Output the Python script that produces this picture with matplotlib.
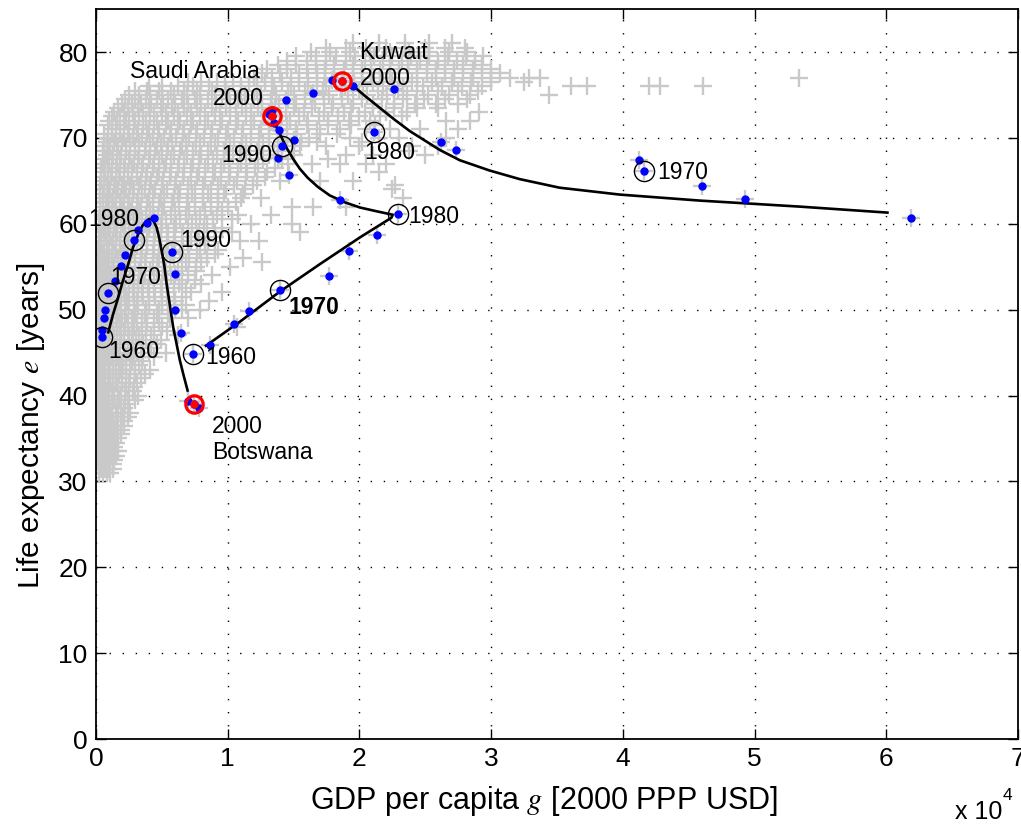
import matplotlib
matplotlib.use('Agg')
import matplotlib.pyplot as plt
import numpy as np

plt.rcParams['font.family'] = ['Liberation Sans', 'DejaVu Sans']
plt.rcParams['mathtext.fontset'] = 'stix'

# all countries, all years: GDP values (thousand USD) grouped by life expectancy level
cloud_life = list(range(31, 82))
cloud_gdp = [
    [0.2, 0.5, 0.8, 1.1],
    [0.3, 0.6, 0.9, 1.3],
    [0.2, 0.5, 0.8, 1.2, 1.5],
    [0.3, 0.6, 1.0, 1.4],
    [0.2, 0.5, 0.9, 1.2, 1.7],
    [0.3, 0.7, 1.0, 1.4, 1.9],
    [0.2, 0.5, 0.9, 1.3, 1.7, 2.1],
    [0.3, 0.6, 1.0, 1.5, 1.9, 2.6],
    [0.2, 0.5, 0.8, 1.2, 1.6, 2.2],
    [0.3, 0.6, 1.0, 1.4, 1.9, 2.5, 3.2],
    [0.2, 0.5, 0.9, 1.3, 1.7, 2.3, 2.9],
    [0.3, 0.7, 1.1, 1.5, 2.0, 2.6, 3.4],
    [0.2, 0.5, 0.9, 1.3, 1.8, 2.3, 3.0, 4.1],
    [0.3, 0.6, 1.0, 1.5, 2.0, 2.7, 3.5],
    [0.2, 0.5, 0.9, 1.3, 1.8, 2.4, 3.1, 4.0, 5.3],
    [0.3, 0.7, 1.1, 1.6, 2.1, 2.8, 3.6, 4.6],
    [0.2, 0.5, 0.9, 1.4, 1.9, 2.5, 3.3, 4.2, 6.2],
    [0.3, 0.7, 1.1, 1.6, 2.2, 2.9, 3.8, 5.0, 10.7],
    [0.2, 0.6, 1.0, 1.5, 2.0, 2.7, 3.5, 4.4, 5.6, 7.0],
    [0.3, 0.7, 1.1, 1.6, 2.2, 2.9, 3.8, 4.8, 6.5, 7.9],
    [0.2, 0.5, 0.9, 1.3, 1.8, 2.4, 3.1, 4.0, 5.0, 6.0, 8.6],
    [0.3, 0.7, 1.1, 1.6, 2.1, 2.8, 3.5, 4.4, 5.5, 7.2, 9.6],
    [0.2, 0.5, 0.9, 1.3, 1.9, 2.5, 3.2, 4.0, 5.0, 6.3, 8.0],
    [0.3, 0.7, 1.1, 1.6, 2.2, 2.9, 3.7, 4.6, 5.7, 7.0, 8.8],
    [0.2, 0.6, 1.0, 1.4, 2.0, 2.6, 3.4, 4.3, 5.3, 6.5, 7.6, 10.2],
    [0.3, 0.7, 1.2, 1.7, 2.3, 3.0, 3.8, 4.8, 5.9, 7.1, 8.4, 11.2],
    [0.2, 0.6, 1.0, 1.5, 2.1, 2.7, 3.5, 4.4, 5.5, 6.6, 7.9, 9.3],
    [0.4, 0.8, 1.3, 1.8, 2.4, 3.1, 3.9, 4.9, 6.0, 7.2, 8.5, 10.9, 12.4],
    [0.3, 0.7, 1.1, 1.6, 2.2, 2.9, 3.6, 4.5, 5.5, 6.6, 7.8, 9.0, 10.3, 15.5],
    [0.4, 0.9, 1.4, 2.0, 2.6, 3.3, 4.1, 5.0, 6.1, 7.3, 8.4, 11.8, 14.9],
    [0.3, 0.7, 1.2, 1.7, 2.3, 3.0, 3.8, 4.7, 5.7, 6.8, 7.9, 9.2, 10.8, 13.3],
    [0.5, 1.0, 1.5, 2.1, 2.7, 3.4, 4.3, 5.2, 6.3, 7.5, 8.7, 10.0, 14.9, 16.5, 19.0],
    [0.3, 0.8, 1.3, 1.9, 2.5, 3.2, 4.0, 4.9, 5.9, 7.0, 8.1, 9.3, 11.0, 12.5, 23.3],
    [0.6, 1.1, 1.7, 2.3, 2.9, 3.7, 4.5, 5.4, 6.4, 7.5, 8.7, 9.9, 11.3, 22.5],
    [0.4, 0.9, 1.5, 2.1, 2.7, 3.4, 4.2, 5.1, 6.1, 7.2, 8.3, 9.5, 10.7, 12.2, 14.0, 17.0, 19.5],
    [0.7, 1.2, 1.8, 2.4, 3.1, 3.9, 4.8, 5.7, 6.7, 7.8, 9.0, 10.2, 11.5, 13.0, 21.5],
    [0.5, 1.0, 1.6, 2.2, 2.9, 3.6, 4.4, 5.3, 6.3, 7.4, 8.5, 9.7, 11.0, 12.3, 14.6, 16.4, 18.5, 20.5, 22.0],
    [0.8, 1.3, 1.9, 2.6, 3.3, 4.1, 5.0, 5.9, 6.9, 8.0, 9.2, 10.4, 11.7, 13.1, 15.0, 19.0, 21.0, 25.0],
    [0.6, 1.1, 1.7, 2.3, 3.0, 3.8, 4.6, 5.5, 6.5, 7.6, 8.7, 9.9, 11.1, 12.4, 13.8, 15.5, 17.5, 20.0, 24.0, 26.0],
    [0.9, 1.5, 2.1, 2.8, 3.5, 4.3, 5.2, 6.1, 7.1, 8.2, 9.3, 10.5, 11.8, 13.1, 14.5, 16.2, 19.3, 21.5, 23.0, 26.6],
    [1.2, 1.8, 2.5, 3.2, 4.0, 4.8, 5.7, 6.7, 7.7, 8.8, 10.0, 11.2, 12.5, 13.8, 15.2, 16.8, 18.5, 20.5, 22.3, 24.6, 27.5],
    [1.0, 1.6, 2.3, 3.0, 3.8, 4.6, 5.5, 6.4, 7.4, 8.5, 9.6, 10.8, 12.0, 13.3, 14.7, 16.1, 17.6, 19.2, 20.8, 26.6, 28.4],
    [1.4, 2.1, 2.8, 3.6, 4.4, 5.3, 6.2, 7.2, 8.3, 9.4, 10.6, 11.8, 13.1, 14.4, 15.8, 17.3, 18.8, 20.4, 22.0, 23.6, 29.1],
    [2.0, 2.7, 3.4, 4.2, 5.1, 6.0, 7.0, 8.0, 9.1, 10.2, 11.4, 12.6, 13.9, 15.2, 16.6, 18.0, 19.5, 21.0, 22.6, 24.2, 25.8, 27.5],
    [2.5, 3.3, 4.1, 5.0, 5.9, 6.9, 7.9, 9.0, 10.1, 11.3, 12.5, 13.7, 15.0, 16.3, 17.7, 19.1, 20.6, 22.1, 23.6, 25.2, 26.8, 28.4, 34.4],
    [4.0, 5.0, 6.2, 7.4, 8.6, 9.8, 11.0, 12.2, 13.5, 14.8, 16.1, 17.5, 18.9, 20.3, 21.8, 23.3, 24.8, 26.3, 27.8, 29.3, 36.1, 37.3, 42.0, 42.8, 46.1],
    [12.0, 13.4, 14.8, 16.1, 17.4, 18.8, 20.2, 21.6, 23.0, 24.4, 25.8, 27.2, 28.6, 30.0, 31.4, 32.9, 33.7, 53.4],
    [13.0, 14.5, 16.0, 17.4, 18.8, 20.2, 21.6, 23.0, 24.4, 25.8, 27.2, 28.6, 30.0],
    [14.5, 16.0, 17.5, 19.0, 20.4, 21.8, 23.2, 24.6, 26.0, 27.4, 28.8],
    [16.3, 17.8, 19.3, 20.8, 22.3, 23.8, 25.3, 26.8, 28.2],
    [19.5, 21.5, 23.5, 25.3, 27.0],
]
# in-between levels of the same cloud
cloud_life_b = [v + 0.5 for v in range(31, 81)]
cloud_gdp_b = [
    [0.35, 0.65, 0.95, 1.3],
    [0.15, 0.45, 0.75, 1.05, 1.4],
    [0.35, 0.65, 1.0, 1.35, 1.7],
    [0.15, 0.45, 0.8, 1.15, 1.55],
    [0.35, 0.7, 1.05, 1.45, 1.9],
    [0.15, 0.5, 0.85, 1.2, 1.6, 2.1],
    [0.35, 0.7, 1.1, 1.5, 1.95, 2.4],
    [0.15, 0.45, 0.8, 1.2, 1.65, 2.15],
    [0.35, 0.7, 1.0, 1.4, 1.85, 2.4, 3.0],
    [0.15, 0.45, 0.8, 1.2, 1.65, 2.2, 2.8],
    [0.35, 0.7, 1.1, 1.5, 1.95, 2.5, 3.1],
    [0.15, 0.5, 0.9, 1.3, 1.75, 2.3, 2.95, 3.7],
    [0.35, 0.7, 1.1, 1.55, 2.05, 2.6, 3.3],
    [0.15, 0.45, 0.8, 1.2, 1.7, 2.25, 2.9, 3.6, 4.4],
    [0.35, 0.7, 1.1, 1.55, 2.1, 2.7, 3.4, 4.2],
    [0.15, 0.5, 0.9, 1.3, 1.8, 2.4, 3.05, 3.8, 4.9],
    [0.35, 0.7, 1.1, 1.6, 2.15, 2.75, 3.5, 4.4, 5.4],
    [0.15, 0.5, 0.85, 1.3, 1.8, 2.4, 3.1, 3.9, 4.8],
    [0.35, 0.75, 1.2, 1.7, 2.3, 2.95, 3.7, 4.6, 5.5],
    [0.15, 0.5, 0.9, 1.35, 1.9, 2.5, 3.2, 4.0, 5.0, 5.9, 6.8],
    [0.35, 0.75, 1.2, 1.7, 2.25, 2.9, 3.6, 4.5, 5.4, 6.5],
    [0.15, 0.5, 0.9, 1.35, 1.9, 2.5, 3.2, 3.95, 4.9, 5.9, 6.8],
    [0.35, 0.75, 1.15, 1.65, 2.2, 2.85, 3.6, 4.4, 5.4, 6.5, 7.5],
    [0.15, 0.5, 0.9, 1.35, 1.9, 2.55, 3.3, 4.1, 5.1, 6.2, 7.6],
    [0.35, 0.8, 1.2, 1.7, 2.3, 2.95, 3.7, 4.6, 5.6, 6.8, 8.0, 12.6],
    [0.15, 0.5, 0.95, 1.45, 2.0, 2.65, 3.4, 4.3, 5.3, 6.4, 7.7, 9.0],
    [0.4, 0.8, 1.25, 1.8, 2.4, 3.1, 3.9, 4.8, 5.9, 7.0, 8.3],
    [0.2, 0.6, 1.05, 1.55, 2.1, 2.75, 3.5, 4.4, 5.4, 6.5, 7.7, 9.0],
    [0.5, 0.9, 1.35, 1.9, 2.5, 3.2, 4.0, 4.9, 5.9, 7.0, 8.2, 9.6],
    [0.2, 0.6, 1.05, 1.55, 2.15, 2.8, 3.5, 4.3, 5.3, 6.4, 7.6, 8.9, 10.3],
    [0.5, 0.95, 1.45, 2.0, 2.6, 3.3, 4.1, 5.0, 6.0, 7.1, 8.3, 9.6],
    [0.3, 0.75, 1.25, 1.8, 2.4, 3.1, 3.9, 4.8, 5.8, 6.9, 8.1, 9.3, 10.6],
    [0.5, 1.0, 1.55, 2.15, 2.8, 3.5, 4.3, 5.2, 6.2, 7.3, 8.5, 9.7, 11.2],
    [0.3, 0.8, 1.35, 1.95, 2.6, 3.3, 4.1, 5.0, 6.0, 7.0, 8.1, 9.3, 10.5, 11.9, 22.7],
    [0.6, 1.15, 1.75, 2.4, 3.1, 3.8, 4.6, 5.6, 6.6, 7.7, 8.9, 10.1, 11.4, 12.8],
    [0.4, 0.9, 1.5, 2.1, 2.75, 3.5, 4.3, 5.2, 6.2, 7.2, 8.3, 9.5, 10.8, 12.1, 13.6],
    [0.7, 1.25, 1.85, 2.5, 3.2, 4.0, 4.8, 5.7, 6.7, 7.8, 8.9, 10.1, 11.4, 12.7, 14.1, 17.6],
    [0.5, 1.0, 1.6, 2.25, 2.95, 3.7, 4.5, 5.4, 6.4, 7.4, 8.5, 9.7, 10.9, 12.2, 13.5, 14.9, 23.8],
    [0.8, 1.35, 1.95, 2.6, 3.3, 4.1, 4.9, 5.8, 6.8, 7.9, 9.0, 10.2, 11.4, 12.7, 14.1, 15.6, 16.8, 20.2],
    [0.6, 1.2, 1.8, 2.45, 3.15, 3.9, 4.7, 5.6, 6.6, 7.6, 8.7, 9.9, 11.1, 12.4, 13.8, 15.3, 17.0, 18.3],
    [0.9, 1.5, 2.15, 2.85, 3.6, 4.4, 5.3, 6.2, 7.2, 8.3, 9.4, 10.6, 11.8, 13.1, 14.5, 16.0, 17.6, 19.4, 21.2],
    [1.2, 1.8, 2.5, 3.3, 4.1, 5.0, 5.9, 6.9, 7.9, 9.0, 10.2, 11.4, 12.7, 14.0, 15.4, 16.9, 18.4, 20.0, 21.6, 23.2],
    [1.7, 2.4, 3.2, 4.0, 4.9, 5.8, 6.7, 7.7, 8.8, 9.9, 11.1, 12.3, 13.6, 15.0, 16.4, 17.9, 19.4, 21.0, 22.6, 24.4, 26.0],
    [2.2, 3.0, 3.8, 4.6, 5.5, 6.5, 7.5, 8.5, 9.6, 10.8, 12.0, 13.3, 14.6, 15.9, 17.3, 18.7, 20.2, 21.7, 23.3, 24.9, 26.5, 28.2],
    [3.0, 3.9, 4.8, 5.7, 6.7, 7.7, 8.8, 9.9, 11.0, 12.2, 13.4, 14.6, 15.9, 17.2, 18.6, 20.0, 21.4, 22.9, 24.4, 26.0, 27.5, 29.0],
    [7.0, 8.0, 9.2, 10.4, 11.6, 12.8, 14.1, 15.4, 16.8, 18.2, 19.6, 21.0, 22.5, 24.0, 25.5, 27.0, 28.5, 30.0, 32.5],
    [12.6, 14.0, 15.4, 16.8, 18.1, 19.5, 20.9, 22.3, 23.7, 25.1, 26.5, 27.9, 29.3, 30.7],
    [13.8, 15.2, 16.7, 18.1, 19.5, 20.9, 22.3, 23.7, 25.1, 26.5, 27.9, 29.3],
    [15.2, 16.7, 18.2, 19.7, 21.1, 22.5, 23.9, 25.3, 26.7, 28.1, 29.4],
    [17.5, 19.0, 20.5, 22.0, 23.5, 25.0, 26.5, 28.0],
]

# Botswana, yearly points 1960-2000
bwa_gdp = [480, 480, 630, 680, 890, 1440, 1870, 2180, 2860, 3210, 3890, 4380,
           5790, 5970, 6020, 6450, 7000, 7410, 7840]
bwa_life = [46.8, 47.6, 49.0, 50.0, 51.9, 53.3, 55.1, 56.4, 58.1, 59.3, 60.1, 60.7,
            56.7, 54.1, 50.0, 47.3, 39.4, 39.0, 38.6]
bwa_decades = [0, 4, 8, 12]
bwa_last = 17
bwa_fit_gdp = [933, 1290, 1692, 2048, 2451, 2807, 3209, 3528, 3847, 4021, 4226, 4400,
               4605, 4780, 4985, 5190, 5364, 5614, 5865, 6145, 6373, 6676, 6957]
bwa_fit_life = [47.36, 49.42, 51.43, 53.37, 55.31, 57.21, 58.80, 59.77, 60.35, 60.55,
                60.52, 60.23, 59.57, 58.49, 56.86, 55.12, 52.99, 50.47, 47.94, 45.81,
                44.07, 42.21, 40.58]

# Saudi Arabia
sau_gdp = [7380, 8650, 10490, 11610, 13960, 17680, 19220, 21320, 22940, 18560,
           14670, 13810, 14090, 15020, 13910, 13500, 13130, 13330, 13330]
sau_life = [44.8, 45.9, 48.3, 49.9, 52.3, 53.9, 56.8, 58.7, 61.1, 62.8,
            65.7, 67.7, 69.0, 69.8, 70.9, 71.7, 72.8, 72.5, 73.2]
sau_decades = [0, 4, 8, 12]
sau_last = 17
sau_fit_gdp = [8350, 10930, 13960, 17000, 20030, 22430, 22530, 21170, 20030, 18890,
               17750, 16840, 16080, 15480, 14950, 14490, 14110, 13730, 13510]
sau_fit_life = [45.8, 48.6, 52.1, 55.3, 58.4, 60.7, 61.05, 61.5, 61.9, 62.5,
                63.3, 64.3, 65.35, 66.4, 67.6, 68.8, 70.0, 71.2, 71.9]

# Kuwait
kwt_gdp = [61910, 49300, 46030, 41600, 41200, 27370, 26230, 21120, 14390,
           16490, 22610, 19520, 17930, 18660]
kwt_life = [60.7, 62.9, 64.4, 66.1, 67.4, 68.6, 69.5, 70.7, 74.4,
            75.2, 75.7, 76.0, 76.7, 76.6]
kwt_decades = [3, 7]
kwt_last = 13
kwt_fit_gdp = [19420, 20410, 21550, 22690, 23820, 24960, 26100, 27620, 29890,
               32170, 35200, 39760, 45830, 53410, 60090]
kwt_fit_life = [76.2, 74.9, 73.5, 72.1, 70.8, 69.7, 68.6, 67.4, 66.2,
                65.2, 64.2, 63.4, 62.7, 62.0, 61.3]

# annotations: text, left x (USD), centre y (years)
labels = [
    ('Saudi Arabia', 2580, 77.7), ('2000', 8900, 74.6), ('1990', 9500, 68.0),
    ('1980', 23700, 60.9), ('1960', 8300, 44.4),
    ('Kuwait', 20000, 80.0), ('2000', 20000, 76.9), ('1980', 20400, 68.3),
    ('1970', 42600, 66.0),
    ('1980', -600, 60.5), ('1990', 6400, 58.1), ('1970', 1060, 53.8),
    ('1960', 910, 45.1), ('2000', 8800, 36.4), ('Botswana', 8800, 33.4),
]
bold_label = ('1970', 14600, 50.3)

fig = plt.figure(figsize=(10.21, 8.25), dpi=100)
ax = fig.add_axes([0.094, 0.1042, 0.903, 0.8848])

cross = dict(linestyle='none', marker='+', color='0.79', ms=13.5, mew=1.7, zorder=1)
cx = [g * 1000 for row in cloud_gdp + cloud_gdp_b for g in row]
cy = ([lv for lv, row in zip(cloud_life, cloud_gdp) for g in row] +
      [lv for lv, row in zip(cloud_life_b, cloud_gdp_b) for g in row])
ax.plot(cx, cy, **cross)

countries = [
    (bwa_gdp, bwa_life, bwa_decades, bwa_last, bwa_fit_gdp, bwa_fit_life),
    (sau_gdp, sau_life, sau_decades, sau_last, sau_fit_gdp, sau_fit_life),
    (kwt_gdp, kwt_life, kwt_decades, kwt_last, kwt_fit_gdp, kwt_fit_life),
]
for gdp, life, dec, last, fg, fl in countries:
    gdp = np.array(gdp)
    life = np.array(life)
    ax.plot(gdp, life, **cross)
    ax.plot(fg, fl, '-', color='k', lw=1.9, zorder=3, solid_joinstyle='round')
    ax.plot(gdp, life, 'o', color='b', mec='b', ms=5, zorder=4)
    ax.plot(gdp[dec], life[dec], 'o', mfc='none', mec='k', ms=14.5, mew=1.0, zorder=5)
    ax.plot(gdp[last], life[last], 'o', mfc='none', mec='r', ms=12.5, mew=2.3, zorder=5)
    ax.plot(gdp[last], life[last], 'o', color='r', ms=5, zorder=6)

for txt, x, y in labels:
    ax.text(x, y, txt, ha='left', va='center', fontsize=16.5, zorder=7, clip_on=False)
ax.text(bold_label[1], bold_label[2], bold_label[0], ha='left', va='center',
        fontsize=16.5, fontweight='bold', zorder=7)

ax.set_xlim(0, 70000)
ax.set_ylim(0, 85)
ax.set_xticks(np.arange(0, 70001, 10000))
ax.set_xticklabels([str(i) for i in range(8)])
ax.set_yticks(np.arange(0, 81, 10))
ax.tick_params(direction='in', top=True, right=True, length=7, width=1,
               labelsize=19, pad=6)
for sp in ax.spines.values():
    sp.set_linewidth(1.3)
ax.grid(True, color='k', linestyle=(0, (1, 8.4)), linewidth=1)
ax.set_axisbelow(True)

ax.set_xlabel('GDP per capita $g$ [2000 PPP USD]', fontsize=22)
ax.set_ylabel('Life expectancy $e$ [years]', fontsize=21.5)
ax.xaxis.set_label_coords(0.486, -0.062)
ax.yaxis.set_label_coords(-0.053, 0.429)

fig.text(955 / 1021, 1 - 812 / 825, 'x 10', fontsize=18, ha='left', va='center')
fig.text(1003 / 1021, 1 - 796 / 825, '4', fontsize=12.5, ha='left', va='center')

fig.savefig('out.png', dpi=100)
